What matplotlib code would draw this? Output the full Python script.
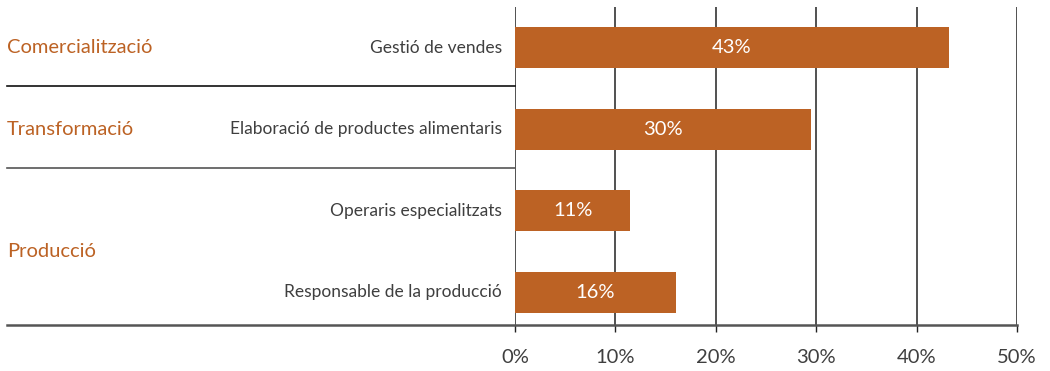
import matplotlib.pyplot as plt
import matplotlib.transforms as mtransforms
from matplotlib.lines import Line2D

# data
groups = ['Comercialització', 'Transformació', 'Producció']
group_pos = [0, 1, 2.5]
roles = ['Gestió de vendes', 'Elaboració de productes alimentaris',
         'Operaris especialitzats', 'Responsable de la producció']
values = [43.2, 29.5, 11.5, 16.0]
value_labels = ['43%', '30%', '11%', '16%']
ticks = [0, 10, 20, 30, 40, 50]
tick_labels = ['0%', '10%', '20%', '30%', '40%', '50%']

orange = '#BC6224'
grey = '#3f3f3f'
plt.rcParams['font.family'] = ['Lato', 'DejaVu Sans']

fig = plt.figure(figsize=(10.5, 3.71), dpi=100)
ax = fig.add_axes([0.4905, 0.124, 0.4781, 0.857])

ypos = list(range(len(roles)))
ax.barh(ypos, values, height=0.5, color=orange, zorder=3)
for y, v, lab in zip(ypos, values, value_labels):
    ax.text(v / 2, y, lab, ha='center', va='center', color='white',
            fontsize=14.5, zorder=4)

ax.set_xlim(0, 50)
ax.set_ylim(3.4, -0.5)
ax.set_xticks(ticks)
ax.set_xticklabels(tick_labels, fontsize=14.5, color=grey)
ax.set_yticks([])
ax.tick_params(axis='x', length=5, width=1, color='#222222', pad=12)
ax.grid(axis='x', color='#222222', linewidth=1.1, zorder=0)
for s in ['top', 'right', 'left', 'bottom']:
    ax.spines[s].set_visible(False)

# role labels
for y, r in zip(ypos, roles):
    ax.text(-1.3, y, r, ha='right', va='center', fontsize=12.5, color=grey)

# group labels, x in figure coords
trans = mtransforms.blended_transform_factory(fig.transFigure, ax.transData)
for g, y in zip(groups, group_pos):
    ax.text(7 / 1050, y, g, transform=trans, ha='left', va='center',
            fontsize=14.5, color=orange)

# separators
for y, c in [(0.47, '#111111'), (1.48, '#555555')]:
    ax.add_line(Line2D([7 / 1050, 515 / 1050], [y, y], transform=trans,
                       color=c, linewidth=1.2, clip_on=False))
ax.add_line(Line2D([7 / 1050, 1017 / 1050], [3.4, 3.4], transform=trans,
                   color='#555555', linewidth=1.8, clip_on=False, zorder=5))

fig.savefig('out.png', dpi=100)
